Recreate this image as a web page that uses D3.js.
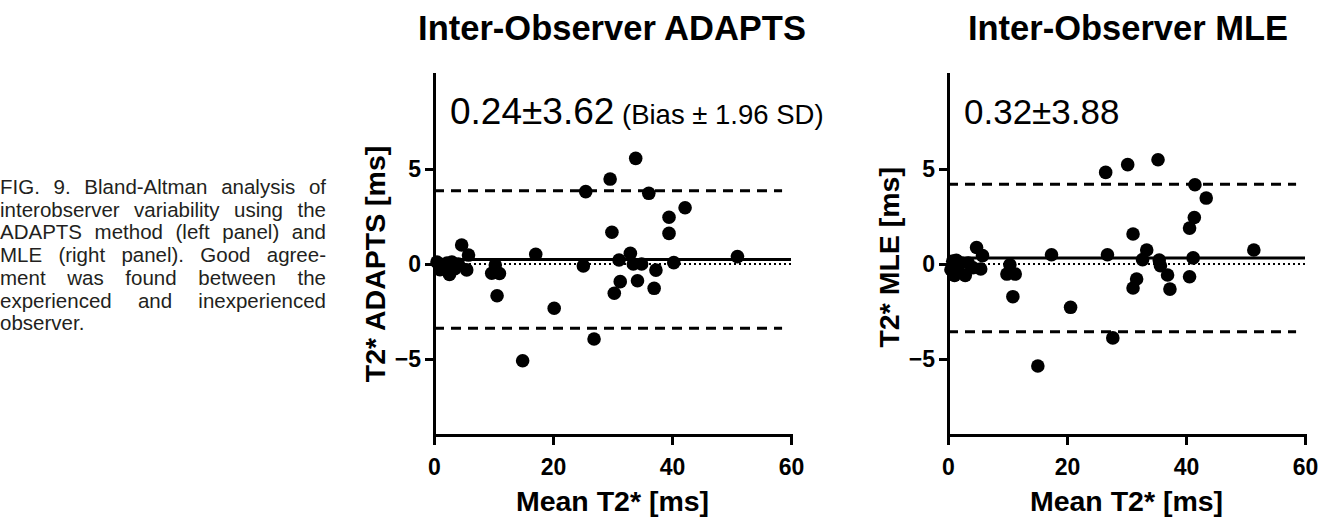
<!DOCTYPE html>
<html>
<head>
<meta charset="utf-8">
<script src="https://cdn.jsdelivr.net/npm/d3@7"></script>
<style>
  body { margin: 0; background: #fff; }
  #wrap { position: relative; width: 1331px; height: 520px; overflow: hidden; }
  #caption {
    position: absolute; left: 0; top: 176px; width: 326px;
    font-family: "Liberation Sans", Arial, sans-serif; font-size: 20.5px;
    line-height: 22.7px; color: #231f20;
  }
  #caption div { text-align: justify; text-align-last: justify; white-space: nowrap; }
  #caption div.last { text-align-last: left; }
  svg { position: absolute; left: 0; top: 0; }
</style>
</head>
<body>
<div id="wrap">
  <div id="caption"></div>
  <div id="chart"></div>
</div>
<script>
// mean of the two observers (x) and their difference (y)
const adaptsMean = [0.5, 1.0, 1.3, 1.8, 2.2, 2.6, 3.0, 3.5, 4.1, 4.65, 5.8, 5.5, 9.7, 11.0, 10.3, 10.6,
  17.1, 20.2, 14.9, 25.1, 25.5, 26.9, 29.6, 29.9, 31.1, 31.3, 30.3, 33.0, 33.5, 33.9, 34.9, 34.2,
  36.1, 37.3, 37.0, 39.5, 39.5, 40.3, 42.2, 51.0];
const adaptsDiff = [0.1, -0.3, -0.05, -0.2, 0.05, -0.55, 0.1, -0.25, 0.0, 1.0, 0.47, -0.31, -0.49, -0.5, -0.05, -1.67,
  0.51, -2.33, -5.09, -0.1, 3.81, -3.95, 4.47, 1.67, 0.21, -0.93, -1.54, 0.56, 0.0, 5.56, 0.0, -0.88,
  3.72, -0.32, -1.28, 2.46, 1.61, 0.07, 2.96, 0.39];

const mleMean = [0.5, 0.8, 1.1, 1.6, 2.2, 2.9, 3.4, 4.2, 1.4, 4.8, 5.8, 5.5, 9.9, 11.3, 10.4, 10.9,
  17.4, 20.6, 15.1, 26.5, 26.8, 27.7, 30.2, 31.1, 31.7, 31.1, 33.4, 32.7, 35.3, 35.5, 35.7, 36.9,
  37.3, 40.6, 41.2, 41.5, 43.4, 41.4, 40.6, 51.4];
const mleDiff = [-0.3, 0.15, -0.6, -0.15, 0.05, -0.6, 0.05, -0.2, 0.2, 0.87, 0.44, -0.26, -0.53, -0.53, -0.04, -1.72,
  0.49, -2.28, -5.37, 4.82, 0.49, -3.89, 5.23, 1.58, -0.79, -1.26, 0.74, 0.23, 5.49, 0.21, -0.09, -0.58,
  -1.32, -0.67, 0.32, 4.17, 3.47, 2.45, 1.89, 0.74];

const adaptsStats = { bias: 0.24, sd196: 3.62 };
const mleStats = { bias: 0.32, sd196: 3.88 };

const xTicks = [0, 20, 40, 60];
const yTicks = [-5, 0, 5];

const captionLines = [
  "FIG. 9. Bland-Altman analysis of",
  "interobserver variability using the",
  "ADAPTS method (left panel) and",
  "MLE (right panel). Good agree-",
  "ment was found between the",
  "experienced and inexperienced",
  "observer."
];

const font = "'Liberation Sans', Arial, Helvetica, sans-serif";

d3.select("#caption").selectAll("div")
  .data(captionLines)
  .enter()
  .append("div")
  .classed("last", (d, i) => i === captionLines.length - 1)
  .text(d => d);

const svg = d3.select("#chart").append("svg")
  .attr("width", 1331)
  .attr("height", 520);

function panel(opt) {
  const x = d3.scaleLinear().domain([0, 60]).range([opt.left, opt.left + 357]);
  const y = d3.scaleLinear().domain([-9, 10]).range([435, 74]);
  const g = svg.append("g");

  g.append("text")
    .attr("x", opt.titleX).attr("y", 40)
    .attr("text-anchor", "middle")
    .attr("font-family", font).attr("font-weight", "bold").attr("font-size", 34.5)
    .text(opt.title);

  // zero reference (dotted), bias (solid), limits (dashed)
  g.append("line")
    .attr("x1", x(0)).attr("x2", x(60))
    .attr("y1", y(0)).attr("y2", y(0))
    .attr("stroke", "#000").attr("stroke-width", 2).attr("stroke-dasharray", "2,3");

  g.append("line")
    .attr("x1", x(0)).attr("x2", x(60))
    .attr("y1", y(opt.stats.bias)).attr("y2", y(opt.stats.bias))
    .attr("stroke", "#000").attr("stroke-width", 3);

  [opt.stats.bias + opt.stats.sd196, opt.stats.bias - opt.stats.sd196].forEach(v => {
    g.append("line")
      .attr("x1", x(0)).attr("x2", x(58.5))
      .attr("y1", y(v)).attr("y2", y(v))
      .attr("stroke", "#000").attr("stroke-width", 3).attr("stroke-dasharray", "10,7");
  });

  g.selectAll("circle")
    .data(opt.xs.map((v, i) => [v, opt.ys[i]]))
    .enter()
    .append("circle")
    .attr("cx", d => x(d[0]))
    .attr("cy", d => y(d[1]))
    .attr("r", 6.8)
    .attr("fill", "#000");

  const xAxis = g.append("g")
    .attr("transform", `translate(0,${y(-9)})`)
    .call(d3.axisBottom(x).tickValues(xTicks).tickSize(10).tickSizeOuter(0).tickPadding(14));

  const yAxis = g.append("g")
    .attr("transform", `translate(${x(0)},0)`)
    .call(d3.axisLeft(y).tickValues(yTicks).tickSize(9).tickSizeOuter(0).tickPadding(4));

  [xAxis, yAxis].forEach(a => {
    a.select(".domain").attr("stroke-width", 3).attr("stroke-linecap", "square");
    a.selectAll(".tick line").attr("stroke-width", 3);
    a.selectAll(".tick text")
      .attr("font-family", font).attr("font-weight", "bold").attr("font-size", 23).attr("fill", "#000");
  });

  g.append("text")
    .attr("x", x(30)).attr("y", 511)
    .attr("text-anchor", "middle")
    .attr("font-family", font).attr("font-weight", "bold").attr("font-size", 28.5)
    .text("Mean T2* [ms]");

  g.append("text")
    .attr("transform", `translate(${x(0) - 49},${y(opt.labelAt)}) rotate(-90)`)
    .attr("text-anchor", "middle")
    .attr("font-family", font).attr("font-weight", "bold").attr("font-size", 28.5)
    .text(opt.yLabel);

  const ann = g.append("text")
    .attr("x", x(0) + 16).attr("y", 124)
    .attr("font-family", font);
  ann.append("tspan").attr("font-size", opt.annSize)
    .text(`${opt.stats.bias.toFixed(2)}±${opt.stats.sd196.toFixed(2)}`);
  if (opt.note) ann.append("tspan").attr("font-size", 27.5).text(" " + opt.note);
}

panel({ left: 434, titleX: 612, title: "Inter-Observer ADAPTS", yLabel: "T2* ADAPTS [ms]", labelAt: 0.0,
  annSize: 37, xs: adaptsMean, ys: adaptsDiff, stats: adaptsStats, note: "(Bias ± 1.96 SD)" });
panel({ left: 948, titleX: 1128, title: "Inter-Observer MLE", yLabel: "T2* MLE [ms]", labelAt: 0.35,
  annSize: 35, xs: mleMean, ys: mleDiff, stats: mleStats, note: null });
</script>
</body>
</html>
